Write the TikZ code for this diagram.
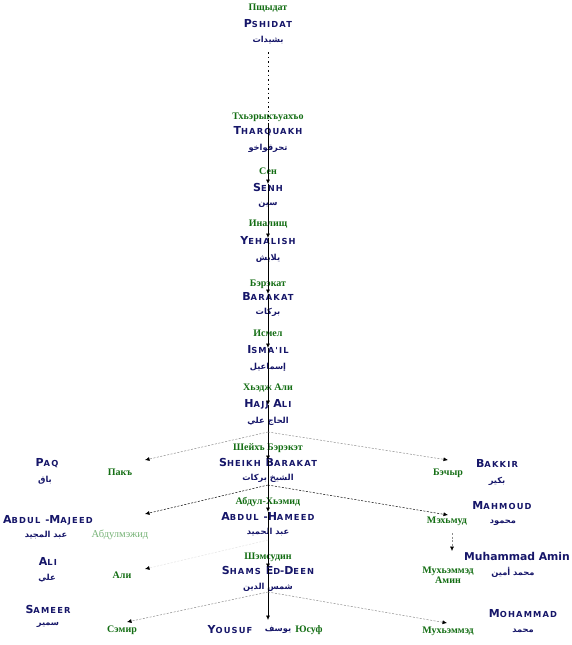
\documentclass[tikz,border=0pt]{standalone}
\usepackage{fontspec}
\usetikzlibrary{arrows.meta}
\TeXXeTstate=1
\setmainfont{DejaVu Sans}
\newfontfamily\navyf[LetterSpace=14]{DejaVu Sans}
\newfontfamily\plainf{DejaVu Sans}
\newfontfamily\arf[Script=Arabic]{DejaVu Sans}
\newfontfamily\grf{Liberation Serif}
\definecolor{navy}{RGB}{22,22,105}
\definecolor{grn}{RGB}{20,110,20}
\definecolor{lgrn}{RGB}{120,180,120}
\newcommand\SCap[2]{{\fontsize{11}{12}\selectfont#1}{\fontsize{8.3}{9}\selectfont#2}}
\newcommand\AR[1]{\beginR #1\endR}
\tikzset{
  nm/.style={text=navy,font=\navyf\bfseries,inner sep=0pt},
  ar/.style={text=navy,font=\arf\bfseries\fontsize{8.3}{9}\selectfont,inner sep=0pt},
  cy/.style={text=grn,font=\grf\bfseries\fontsize{10}{11}\selectfont,inner sep=0pt},
  tip/.style={-{Latex[length=4.5pt,width=4pt,black]}},
  solidedge/.style={tip,draw=black,line width=0.6pt},
  topdash/.style={draw=black,line width=0.6pt,dash pattern=on 1.5pt off 3pt},
  darkdash/.style={tip,draw=black,line width=0.5pt,dash pattern=on 2pt off 1.5pt},
  greydash/.style={tip,draw=black!45,line width=0.5pt,dash pattern=on 2pt off 1.5pt},
  faintdash/.style={tip,draw=black!10,line width=0.5pt,dash pattern=on 2pt off 1.5pt},
}
\begin{document}
\begin{tikzpicture}[x=1pt,y=-1pt]
\useasboundingbox[fill=white] (0,0) rectangle (572,645);
% centre column
\node[cy] (pshidat-g) at (268,8) {Пщыдат};
\node[nm] (pshidat) at (268,24) {\SCap{P}{SHIDAT}};
\node[ar] (pshidat-a) at (268,40) {\AR{بشيدات}};
\node[cy] (tharq-g) at (268,117) {Тхьэрыкъуахъо};
\node[nm] (tharq) at (268,131) {\SCap{T}{HARQUAKH}};
\node[ar] (tharq-a) at (268,148) {\AR{تحرقواخو}};
\node[cy] (senh-g) at (268,171) {Сен};
\node[nm] (senh) at (268,187) {\SCap{S}{ENH}};
\node[ar] (senh-a) at (268,205) {\AR{سين}};
\node[cy] (yeh-g) at (268,224) {Иналищ};
\node[nm] (yeh) at (268,241) {\SCap{Y}{EHALISH}};
\node[ar] (yeh-a) at (268,258) {\AR{يلايش}};
\node[cy] (bar-g) at (268,284) {Бэрэкат};
\node[nm] (bar) at (268,296) {\SCap{B}{ARAKAT}};
\node[ar] (bar-a) at (268,312) {\AR{بركات}};
\node[cy] (ism-g) at (268,333) {Исмел};
\node[nm] (ism) at (268,350) {\SCap{I}{SMA'IL}};
\node[ar] (ism-a) at (268,367) {\AR{إسماعيل}};
\node[cy] (hajj-g) at (268,388) {Хьэдж Али};
\node[nm] (hajj) at (268,404) {\SCap{H}{AJJ} \SCap{A}{LI}};
\node[ar] (hajj-a) at (268,421) {\AR{الحاج علي}};
\node[cy] (sheikh-g) at (268,448) {Шейхъ Бэрэкэт};
\node[nm] (sheikh) at (268,462) {\SCap{S}{HEIKH} \SCap{B}{ARAKAT}};
\node[ar] (sheikh-a) at (268,478) {\AR{الشيخ بركات}};
\node[cy] (hameed-g) at (268,502) {Абдул-Хьэмид};
\node[nm] (hameed) at (268,517) {\SCap{A}{BDUL} -\SCap{H}{AMEED}};
\node[ar] (hameed-a) at (268,532) {\AR{عبد الحميد}};
\node[cy] (shams-g) at (268,557) {Шэмсудин};
\node[nm] (shams) at (268,570) {\SCap{S}{HAMS} \SCap{E}{D}-\SCap{D}{EEN}};
\node[ar] (shams-a) at (268,587) {\AR{شمس الدين}};
\node[nm] (yousuf) at (230,630) {\SCap{Y}{OUSUF}};
\node[ar] (yousuf-a) at (278,630) {\AR{يوسف}};
\node[cy] (yousuf-g) at (309,630) {Юсуф};
% left column
\node[nm] (paq) at (47,463) {\SCap{P}{AQ}};
\node[ar] (paq-a) at (45,480) {\AR{باق}};
\node[cy] (paq-g) at (120,472) {Пакъ};
\node[nm] (majeed) at (48,520) {\SCap{A}{BDUL} -\SCap{M}{AJEED}};
\node[ar] (majeed-a) at (46,535) {\AR{عبد المجيد}};
\node[cy,text=lgrn,font=\grf\fontsize{10.5}{11}\selectfont] (majeed-g) at (120,535) {Абдулмэжид};
\node[nm] (ali) at (48,561) {\SCap{A}{LI}};
\node[ar] (ali-a) at (47,578) {\AR{علي}};
\node[cy] (ali-g) at (122,575) {Али};
\node[nm] (sameer) at (48,609) {\SCap{S}{AMEER}};
\node[ar] (sameer-a) at (48,625) {\AR{سمير}};
\node[cy] (sameer-g) at (122,630) {Сэмир};
% right column
\node[nm] (bakkir) at (497,463) {\SCap{B}{AKKIR}};
\node[ar] (bakkir-a) at (497,481) {\AR{بكير}};
\node[cy] (bakkir-g) at (448,473) {Бэчыр};
\node[nm] (mahmoud) at (502,506) {\SCap{M}{AHMOUD}};
\node[ar] (mahmoud-a) at (503,523) {\AR{محمود}};
\node[cy] (mahmoud-g) at (447,521) {Мэхьмуд};
\node[text=navy,font=\plainf\bfseries\fontsize{10.8}{12}\selectfont,inner sep=0pt] (amin) at (517,556) {Muhammad Amin};
\node[ar] (amin-a) at (513,572) {\AR{محمد أمين}};
\node[cy,align=center] (amin-g) at (448,575) {Мухьэммэд\\[-1pt]Амин};
\node[nm] (mohammad) at (523,614) {\SCap{M}{OHAMMAD}};
\node[ar] (mohammad-a) at (523,631) {\AR{محمد}};
\node[cy] (mohammad-g) at (448,631) {Мухьэммэд};
% connector end points
\coordinate (pshidat-out) at (268,52);
\coordinate (tharq-in) at (268,123);
\coordinate (senh-in) at (268,184);
\coordinate (yeh-in) at (268,238);
\coordinate (bar-in) at (268,294);
\coordinate (ism-in) at (268,348);
\coordinate (hajj-in) at (268,405);
\coordinate (hajj-out) at (268,432);
\coordinate (sheikh-in) at (268,460);
\coordinate (sheikh-out) at (268,485);
\coordinate (hameed-in) at (268,512);
\coordinate (hameed-out) at (268,540);
\coordinate (shams-in) at (268,568);
\coordinate (shams-out) at (268,592);
\coordinate (yousuf-in) at (268,620);
\coordinate (paq-in) at (145,460);
\coordinate (bakkir-in) at (448,460);
\coordinate (majeed-in) at (145,514);
\coordinate (mahmoud-in) at (448,515);
\coordinate (mahmoud-out) at (452,533);
\coordinate (amin-in) at (452,551);
\coordinate (ali-in) at (145,569);
\coordinate (sameer-in) at (127,622);
\coordinate (mohammad-in) at (447,623);
% connectors
\draw[topdash] (pshidat-out) -- (tharq-in);
\draw[solidedge] (tharq-in) -- (senh-in);
\draw[solidedge] (senh-in) -- (yeh-in);
\draw[solidedge] (yeh-in) -- (bar-in);
\draw[solidedge] (bar-in) -- (ism-in);
\draw[solidedge] (ism-in) -- (hajj-in);
\draw[solidedge] (hajj-in) -- (sheikh-in);
\draw[solidedge] (sheikh-in) -- (hameed-in);
\draw[solidedge] (hameed-in) -- (shams-in);
\draw[solidedge] (shams-in) -- (yousuf-in);
\draw[greydash] (hajj-out) -- (paq-in);
\draw[greydash] (hajj-out) -- (bakkir-in);
\draw[darkdash] (sheikh-out) -- (majeed-in);
\draw[darkdash] (sheikh-out) -- (mahmoud-in);
\draw[faintdash] (hameed-out) -- (ali-in);
\draw[greydash] (mahmoud-out) -- (amin-in);
\draw[greydash] (shams-out) -- (sameer-in);
\draw[greydash] (shams-out) -- (mohammad-in);
\end{tikzpicture}
\end{document}
